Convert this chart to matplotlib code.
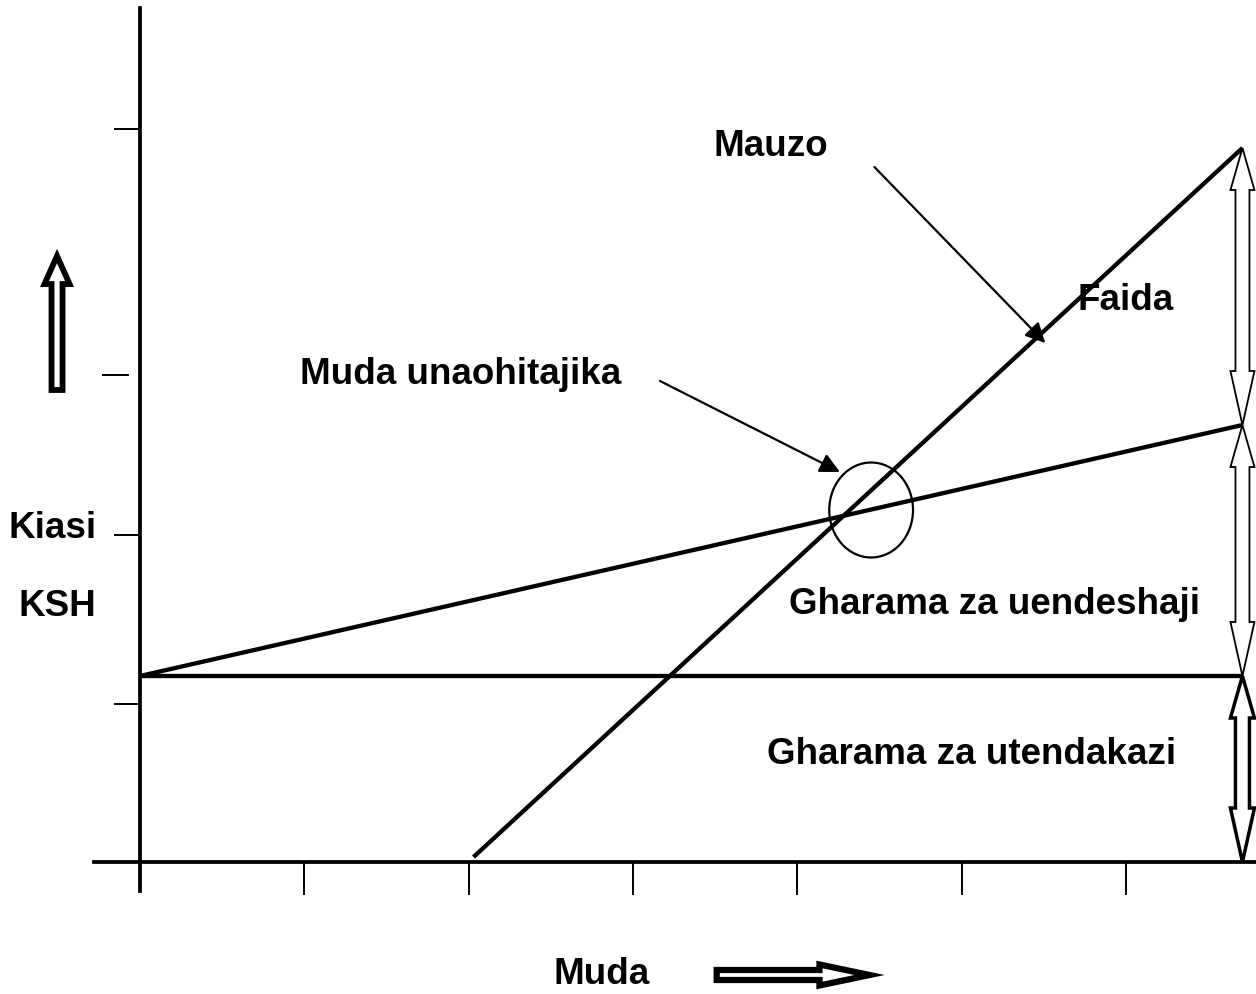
import matplotlib
matplotlib.use("Agg")
import matplotlib.pyplot as plt
import numpy as np
from matplotlib.patches import Polygon, Ellipse
from matplotlib.transforms import IdentityTransform

plt.rcParams['font.family'] = ['Liberation Sans', 'DejaVu Sans']

# ---------------- data (time units on x, KSH units on y) ----------------
time_ticks = [1, 2, 3, 4, 5, 6]
ksh_ticks = [1.58, 3.27, 7.33]
ksh_tick_offset = 4.87           # the tick drawn a little left of the axis
time_end = 6.71

fixed_cost = [1.86, 1.86]        # Gharama za utendakazi (fixed)
total_cost = [1.86, 4.37]        # fixed + Gharama za uendeshaji
cost_x = [0.0, time_end]
sales_x = [2.03, time_end]
sales_y = [0.05, 7.14]           # Mauzo

breakeven_center = (4.45, 3.52)
breakeven_size = (0.51, 0.95)

labels = {
    "Mauzo": (3.84, 7.15),
    "Faida": (6.00, 5.62),
    "Muda unaohitajika": (1.95, 4.87),
    "Kiasi": (-0.53, 3.33),
    "KSH": (-0.505, 2.55),
    "Gharama za uendeshaji": (5.20, 2.58),
    "Gharama za utendakazi": (5.06, 1.07),
    "Muda": (2.81, -1.13),
}

# ---------------- figure ----------------
W, H, DPI = 1256, 994, 100
fig = plt.figure(figsize=(W / DPI, H / DPI), dpi=DPI)
ax = fig.add_axes([0, 0, 1, 1])
xu, yu = 164.3, 100.0   # pixels per unit
x0px, y0px = 140, 862
ax.set_xlim(-x0px / xu, (W - x0px) / xu)
ax.set_ylim(-(H - y0px) / yu, y0px / yu)
ax.set_facecolor('white')

for s in ['top', 'right']:
    ax.spines[s].set_visible(False)
ax.spines['left'].set_position(('data', 0))
ax.spines['bottom'].set_position(('data', 0))
ax.spines['left'].set_bounds(-29 / yu, (y0px - 8) / yu)
ax.spines['bottom'].set_bounds(-46 / xu, (W - x0px) / xu)
for s in ['left', 'bottom']:
    ax.spines[s].set_linewidth(2.7)
    ax.spines[s].set_color('black')
ax.set_xticks(time_ticks)
ax.set_yticks(ksh_ticks)
ax.set_xticklabels([])
ax.set_yticklabels([])
ax.tick_params(axis='x', direction='out', length=24, width=1.4, color='black')
ax.tick_params(axis='y', direction='out', length=19, width=1.4, color='black')
ax.plot([-38 / xu, -11 / xu], [ksh_tick_offset] * 2, color='black', lw=1.4,
        solid_capstyle='butt')

# lines
lw_main = 3.1
ax.plot(cost_x, fixed_cost, color='black', lw=lw_main, solid_capstyle='butt')
ax.plot(cost_x, total_cost, color='black', lw=lw_main, solid_capstyle='butt')
ax.plot(sales_x, sales_y, color='black', lw=lw_main, solid_capstyle='butt')

ax.add_patch(Ellipse(breakeven_center, breakeven_size[0], breakeven_size[1],
                     fill=False, ec='black', lw=1.6))

# texts
for txt, (x, y) in labels.items():
    ax.text(x, y, txt, fontsize=26.5, fontweight='bold', ha='center',
            va='center', color='black')

# annotation arrows
ap = dict(arrowstyle='-|>', color='black', lw=1.6, mutation_scale=30,
          shrinkA=0, shrinkB=0)
ax.annotate('', xy=(5.51, 5.19), xytext=(4.47, 6.95), arrowprops=ap)
ax.annotate('', xy=(4.26, 3.90), xytext=(3.165, 4.81), arrowprops=ap)


# hollow block arrows built in pixel space from data endpoints
def block_arrow(p_start, p_end, sw, hw, hl_end, hl_start=None, lw=1.0):
    a = np.array(ax.transData.transform(p_start))
    b = np.array(ax.transData.transform(p_end))
    d = b - a
    L = np.hypot(*d)
    u = d / L
    n = np.array([-u[1], u[0]])
    pts = []
    if hl_start:
        pts += [a, a + u * hl_start + n * hw, a + u * hl_start + n * sw]
    else:
        pts += [a + n * sw]
    pts += [b - u * hl_end + n * sw, b - u * hl_end + n * hw, b,
            b - u * hl_end - n * hw, b - u * hl_end - n * sw]
    if hl_start:
        pts += [a + u * hl_start - n * sw, a + u * hl_start - n * hw]
    else:
        pts += [a - n * sw]
    ax.add_patch(Polygon(pts, closed=True, transform=IdentityTransform(),
                         fc='white', ec='black', lw=lw, joinstyle='miter'))


# right-hand measurement arrows (Faida / uendeshaji / utendakazi)
block_arrow((time_end, total_cost[1]), (time_end, sales_y[1]), 7, 12, 42, 54, lw=1.3)
block_arrow((time_end, fixed_cost[1]), (time_end, total_cost[1]), 7, 12, 42, 54, lw=1.3)
block_arrow((time_end, 0.0), (time_end, fixed_cost[1]), 7, 12, 42, 54, lw=2.5)

# axis direction arrows
block_arrow((-0.505, 4.72), (-0.505, 6.06), 5.5, 12.5, 28, lw=4.2)
block_arrow((3.51, -1.13), (4.44, -1.13), 5, 10.5, 50, lw=4.5)

fig.savefig('out.png', dpi=DPI, facecolor='white')
